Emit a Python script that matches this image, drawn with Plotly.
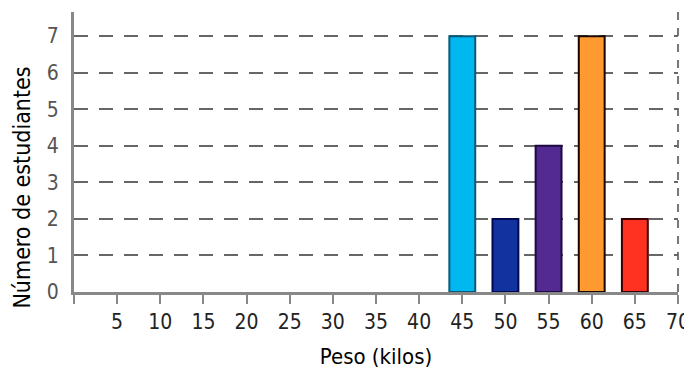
import plotly.graph_objects as go

pesos = [45, 50, 55, 60, 65]
estudiantes = [7, 2, 4, 7, 2]
colores = ["#00B8F0", "#1232A0", "#522A92", "#FF9A30", "#FF3222"]
bordes = ["#0B5A7A", "#000850", "#1E0A40", "#1A0500", "#3A0000"]
x_ticks = list(range(0, 75, 5))
x_labels = [""] + [str(v) for v in x_ticks[1:]]
y_ticks = list(range(0, 8))
x_title = "Peso (kilos)"
y_title = "Número de estudiantes"

font_fam = "DejaVu Sans Condensed, DejaVu Sans, sans-serif"

fig = go.Figure()
fig.add_trace(go.Bar(
    x=pesos, y=estudiantes, width=3,
    marker=dict(color=colores, line=dict(color=bordes, width=2)),
))

fig.update_layout(
    width=684, height=361,
    margin=dict(l=66, r=14, t=4, b=77),
    plot_bgcolor="white", paper_bgcolor="white",
    showlegend=False,
    font=dict(family=font_fam, size=20, color="#222"),
    xaxis=dict(
        range=[0, 70], tickvals=x_ticks, ticktext=x_labels,
        showgrid=False, zeroline=False, automargin=False,
        showline=True, linecolor="#888", linewidth=3,
        ticks="outside", ticklen=9, tickwidth=2, tickcolor="#888",
        tickfont=dict(size=21, color="#222"),
        title=dict(text=x_title, font=dict(size=22, color="#000"), standoff=16),
    ),
    yaxis=dict(
        range=[0, 7.66], tickvals=y_ticks,
        showgrid=True, gridcolor="#666", gridwidth=2, griddash="14px,11px",
        zeroline=False, automargin=False,
        showline=True, linecolor="#888", linewidth=3,
        ticks="", ticklabelstandoff=8,
        tickfont=dict(size=21, color="#555"),
    ),
    annotations=[dict(text=y_title, textangle=-90, xref="paper", yref="paper",
                      x=-0.086, y=0.373, xanchor="center", yanchor="middle",
                      showarrow=False, font=dict(size=23, color="#000"))],
    shapes=[dict(type="line", xref="paper", yref="paper", x0=1, x1=1, y0=0, y1=1,
                 line=dict(color="#777", width=2, dash="8px,8px"), layer="below")],
)

fig.write_html("out.html")
